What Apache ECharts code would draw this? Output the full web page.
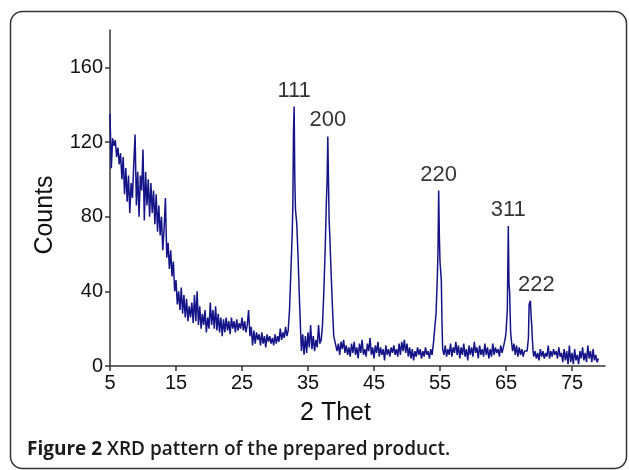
<!DOCTYPE html>
<html>
<head>
<meta charset="utf-8">
<title>XRD pattern</title>
<script src="https://cdn.jsdelivr.net/npm/echarts@6/dist/echarts.min.js"></script>
<style>
  html, body { margin: 0; padding: 0; background: #fff; }
  #chart { width: 629px; height: 470px; }
</style>
</head>
<body>
<div id="chart"></div>
<script>
// tick labels
const xTicks = [5, 15, 25, 35, 45, 55, 65, 75];
const yTicks = [0, 40, 80, 120, 160];

// diffraction pattern, [2 theta, counts]
const lowAngle = [
  [5.0,135],[5.2,106],[5.4,122],[5.6,118],[5.8,121],[6.0,112],[6.2,117],[6.4,108],[6.6,114],[6.8,100],
  [7.0,112],[7.2,92],[7.4,106],[7.6,88],[7.8,102],[8.0,82],[8.2,98],[8.4,90],[8.6,108],[8.8,124],
  [9.0,86],[9.2,104],[9.4,80],[9.6,102],[9.8,94],[10.0,116],[10.2,78],[10.4,104],[10.6,86],[10.8,100],
  [11.0,80],[11.2,98],[11.4,82],[11.6,94],[11.8,76],[12.0,92],[12.2,72],[12.4,86],[12.6,70],[12.8,80],
  [13.0,62],[13.2,74],[13.4,90],[13.6,58],[13.8,66],[14.0,52],[14.2,62],[14.4,48],[14.6,56],[14.8,40],
  [15.0,46],[15.2,33],[15.4,40],[15.6,30],[15.8,42],[16.0,28],[16.2,38],[16.4,26],[16.6,36],[16.8,24],
  [17.0,32],[17.2,26],[17.4,34],[17.6,23],[17.8,38],[18.0,24],[18.2,40],[18.4,22],[18.6,32],[18.8,20],
  [19.0,28],[19.2,22],[19.4,30],[19.6,18],[19.8,26],[20.0,20],[20.2,34],[20.4,22],[20.6,30],[20.8,20],
  [21.0,32],[21.2,19],[21.4,28],[21.6,18],[21.8,26],[22.0,16],[22.2,25],[22.4,18],[22.6,26],[22.8,19],
  [23.0,24],[23.2,17],[23.4,26],[23.6,20],[23.8,24],[24.0,18],[24.2,25],[24.4,19],[24.6,23],[24.8,20],
  [25.0,26],[25.2,19],[25.4,24],[25.6,18],[25.8,22],[26.0,30],[26.2,16],[26.4,21],[26.6,11],[26.8,19],
  [27.0,12],[27.2,18],[27.4,14],[27.6,17],[27.8,11],[28.0,18],[28.2,12],[28.4,16],[28.6,10],[28.8,17],
  [29.0,13],[29.2,16],[29.4,12],[29.6,15],[29.8,11],[30.0,17],[30.2,12],[30.4,16],[30.6,13],[30.8,20],
  [31.0,14],[31.2,18],[31.4,15],[31.6,21],[31.8,16]
];
const midAngle = [
  [32.0,19],[32.2,30],[32.4,50],[32.6,70],[32.7,85],[32.8,125],[32.9,139],[33.0,100],[33.1,84],[33.3,76],
  [33.5,58],[33.7,36],[33.9,17],[34.0,8],[34.2,17],[34.4,6],[34.6,16],[34.8,7],[35.0,18],[35.2,10],
  [35.4,22],[35.6,9],[35.8,16],[36.0,8],[36.2,14],[36.4,10],[36.6,22],[36.8,12],[37.0,14],[37.2,22],
  [37.4,40],[37.6,62],[37.8,90],[37.9,100],[38.0,123],[38.1,100],[38.2,78],[38.3,70],[38.5,50],[38.7,32],
  [38.9,16],[39.2,15],[39.4,8],[39.6,12],[39.8,6],[40.0,13],[40.2,9],[40.4,14],[40.6,7],[40.8,11],
  [41.0,6],[41.2,10],[41.4,5],[41.6,12],[41.8,7],[42.0,13],[42.2,6],[42.4,10],[42.6,4],[42.8,12],
  [43.0,7],[43.2,14],[43.4,6],[43.6,9],[43.8,5],[44.0,12],[44.2,8],[44.4,15],[44.6,6],[44.8,10],
  [45.0,4],[45.2,11],[45.4,7],[45.6,13],[45.8,5],[46.0,10],[46.2,6],[46.4,9],[46.6,3],[46.8,11],
  [47.0,6],[47.2,9],[47.4,5],[47.6,10],[47.8,7],[48.0,11],[48.2,6],[48.4,9],[48.6,5],[48.8,12],
  [49.0,6],[49.2,13],[49.4,8],[49.6,14],[49.8,7],[50.0,12],[50.2,5],[50.4,10],[50.6,4],[50.8,9],
  [51.0,3],[51.2,8],[51.4,5],[51.6,10],[51.8,6],[52.0,9],[52.2,4],[52.4,8],[52.6,5],[52.8,10],
  [53.0,6],[53.2,8],[53.4,4],[53.6,9],[53.8,6],[54.0,12],[54.2,13],[54.4,28],[54.6,48],[54.7,62],
  [54.8,94],[54.9,70],[55.0,56],[55.2,46],[55.3,24],[55.4,9]
];
const highAngle = [
  [55.6,6],[55.8,11],[56.0,5],[56.2,9],[56.4,6],[56.6,12],[56.8,5],[57.0,10],[57.2,7],[57.4,13],
  [57.6,6],[57.8,11],[58.0,4],[58.2,10],[58.4,6],[58.6,12],[58.8,5],[59.0,9],[59.2,3],[59.4,11],
  [59.6,6],[59.8,10],[60.0,5],[60.2,13],[60.4,7],[60.6,10],[60.8,4],[61.0,11],[61.2,6],[61.4,9],
  [61.6,5],[61.8,12],[62.0,6],[62.2,10],[62.4,4],[62.6,9],[62.8,5],[63.0,12],[63.2,6],[63.4,10],
  [63.6,7],[63.8,9],[64.0,5],[64.2,11],[64.4,7],[64.6,10],[64.7,9],[64.9,15],[65.0,18],[65.2,30],
  [65.35,75],[65.45,44],[65.55,40],[65.7,18],[65.9,11],[66.0,8],[66.2,12],[66.4,6],[66.6,11],[66.8,5],
  [67.0,10],[67.2,6],[67.4,9],[67.6,5],[67.8,8],[68.0,7],[68.2,8],[68.4,15],[68.5,33],[68.6,34],
  [68.7,35],[68.8,27],[68.9,22],[69.0,14],[69.1,8],[69.2,5],[69.4,8],[69.6,4],[69.8,7],[70.0,3],
  [70.2,9],[70.4,5],[70.6,8],[70.8,4],[71.0,7],[71.2,5],[71.4,11],[71.6,4],[71.8,8],[72.0,5],
  [72.2,9],[72.4,6],[72.6,8],[72.8,4],[73.0,10],[73.2,5],[73.4,7],[73.6,2],[73.8,9],[74.0,3],
  [74.2,8],[74.4,1],[74.6,11],[74.8,2],[75.0,7],[75.2,1],[75.4,9],[75.6,3],[75.8,6],[76.0,1],
  [76.2,8],[76.4,4],[76.6,10],[76.8,3],[77.0,7],[77.2,2],[77.4,11],[77.6,4],[77.8,8],[78.0,2],
  [78.2,9],[78.4,3],[78.6,6],[78.8,2],[79.0,4]
];

// reflection labels at the peak tops
const hklNames = ['111', '200', '220', '311', '222'];
const hklAngles = [32.9, 38.0, 54.8, 65.35, 68.7];
const hklCounts = [139, 123, 94, 75, 35];

const chart = echarts.init(document.getElementById('chart'));
const font = 'Liberation Sans, Arial, sans-serif';
const axisColor = '#333';
const textColor = '#111';

chart.setOption({
  animation: false,
  backgroundColor: '#fff',
  title: {
    left: 27,
    top: 440,
    padding: 0,
    text: '{b|Figure 2} {n|XRD pattern of the prepared product.}',
    textStyle: {
      rich: {
        b: { fontFamily: 'Open Sans', fontWeight: 'bold', fontSize: 19, color: '#1a1a1a' },
        n: { fontFamily: 'Open Sans', fontWeight: 600, fontSize: 19, color: '#1a1a1a' }
      }
    }
  },
  graphic: [{
    type: 'rect',
    shape: { x: 10.5, y: 11.5, width: 616, height: 457, r: 12 },
    style: { fill: 'none', stroke: '#333', lineWidth: 1.5 },
    silent: true
  }],
  grid: { left: 110, right: 24, top: 30, bottom: 104 },
  xAxis: {
    type: 'value',
    min: 5,
    max: 80,
    name: '2 Thet',
    nameLocation: 'middle',
    nameGap: 35,
    nameTextStyle: { fontFamily: font, fontSize: 25, color: textColor, padding: [0, 44, 0, 0] },
    axisLine: { lineStyle: { color: axisColor, width: 1.5 } },
    axisTick: { show: true, length: 5, customValues: xTicks, lineStyle: { color: axisColor, width: 1.5 } },
    axisLabel: { customValues: xTicks, fontFamily: font, fontSize: 20, color: textColor, margin: 7 },
    splitLine: { show: false }
  },
  yAxis: {
    type: 'value',
    min: 0,
    max: 180,
    name: 'Counts',
    nameLocation: 'middle',
    nameGap: 52,
    nameTextStyle: { fontFamily: font, fontSize: 25, color: textColor, padding: [0, 34, 0, 0] },
    axisLine: { show: true, lineStyle: { color: axisColor, width: 1.5 } },
    axisTick: { show: true, length: 5, customValues: yTicks, lineStyle: { color: axisColor, width: 1.5 } },
    axisLabel: { customValues: yTicks, fontFamily: font, fontSize: 20, color: textColor, margin: 7 },
    splitLine: { show: false }
  },
  series: [
    {
      type: 'line',
      data: lowAngle.concat(midAngle, highAngle),
      showSymbol: false,
      symbol: 'none',
      lineStyle: { color: '#141488', width: 1.5 }
    },
    {
      type: 'scatter',
      symbolSize: 0,
      silent: true,
      data: hklNames.map((n, i) => ({
        value: [hklAngles[i], hklCounts[i]],
        name: n,
        label: i === 4 ? { offset: [6, 0] } : {}
      })),
      label: {
        show: true,
        position: 'top',
        distance: 5,
        formatter: p => p.name,
        fontFamily: font,
        fontSize: 22,
        color: '#000'
      }
    }
  ]
});
</script>
</body>
</html>
